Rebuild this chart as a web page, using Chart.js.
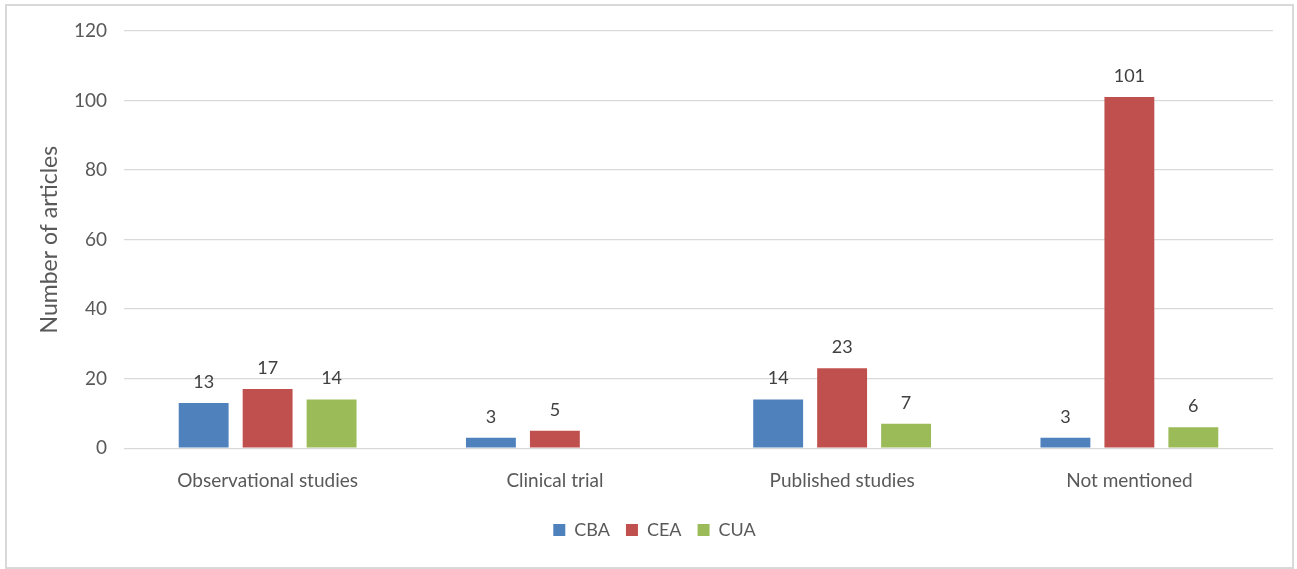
<!DOCTYPE html>
<html>
<head>
<meta charset="utf-8">
<script src="https://cdn.jsdelivr.net/npm/chart.js@4/dist/chart.umd.min.js"></script>
<style>
  html, body { margin: 0; padding: 0; background: #fff; }
  #wrap { position: relative; width: 1297px; height: 569px; }
  #frame { position: absolute; left: 5px; top: 4px; width: 1285px; height: 561px;
           border: 2px solid #d9d9d9; pointer-events: none; }
</style>
</head>
<body>
<div id="wrap">
  <canvas id="chart" width="1297" height="569"></canvas>
  <div id="frame"></div>
</div>
<script>
const categories = ["Observational studies", "Clinical trial", "Published studies", "Not mentioned"];
const cbaValues = [13, 3, 14, 3];
const ceaValues = [17, 5, 23, 101];
const cuaValues = [14, null, 7, 6];
const yTicks = [0, 20, 40, 60, 80, 100, 120];

const FONT = "Lato, 'Open Sans', sans-serif";
const TEXT = "#595959";

// labels above each bar
const barLabels = {
    id: "barLabels",
    afterDatasetsDraw(chart) {
        const ctx = chart.ctx;
        ctx.save();
        ctx.font = "18px " + FONT;
        ctx.fillStyle = "#404040";
        ctx.textAlign = "center";
        ctx.textBaseline = "bottom";
        chart.data.datasets.forEach((ds, i) => {
            chart.getDatasetMeta(i).data.forEach((bar, j) => {
                if (ds.data[j] == null) return;
                ctx.fillText(ds.data[j], bar.x, bar.y - 12);
            });
        });
        ctx.restore();
    }
};

new Chart(document.getElementById("chart"), {
    type: "bar",
    data: {
        labels: categories,
        datasets: [
            { label: "CBA", data: cbaValues, backgroundColor: "#4f81bd" },
            { label: "CEA", data: ceaValues, backgroundColor: "#c0504d" },
            { label: "CUA", data: cuaValues, backgroundColor: "#9bbb59" }
        ]
    },
    options: {
        responsive: false,
        animation: false,
        categoryPercentage: 0.668,
        barPercentage: 0.78,
        layout: { padding: { left: 36, right: 24, top: 31, bottom: 20 } },
        scales: {
            x: {
                grid: { display: false },
                border: { display: false },
                ticks: { color: TEXT, font: { family: FONT, size: 19 }, padding: 13 }
            },
            y: {
                min: 0,
                max: 120,
                afterBuildTicks(scale) { scale.ticks = yTicks.map(v => ({ value: v })); },
                afterFit(scale) { scale.width = 88; },
                grid: { color: "#d9d9d9", lineWidth: 1.3, drawTicks: false },
                border: { display: false },
                ticks: { color: TEXT, font: { family: FONT, size: 19 }, padding: 17 },
                title: {
                    display: true,
                    text: "Number of articles",
                    color: TEXT,
                    font: { family: FONT, size: 23 },
                    padding: 0
                }
            }
        },
        plugins: {
            legend: {
                position: "bottom",
                labels: {
                    color: TEXT,
                    font: { family: FONT, size: 18 },
                    boxWidth: 12,
                    boxHeight: 12,
                    padding: 16
                }
            },
            tooltip: { enabled: false }
        }
    },
    plugins: [barLabels]
});
</script>
</body>
</html>
